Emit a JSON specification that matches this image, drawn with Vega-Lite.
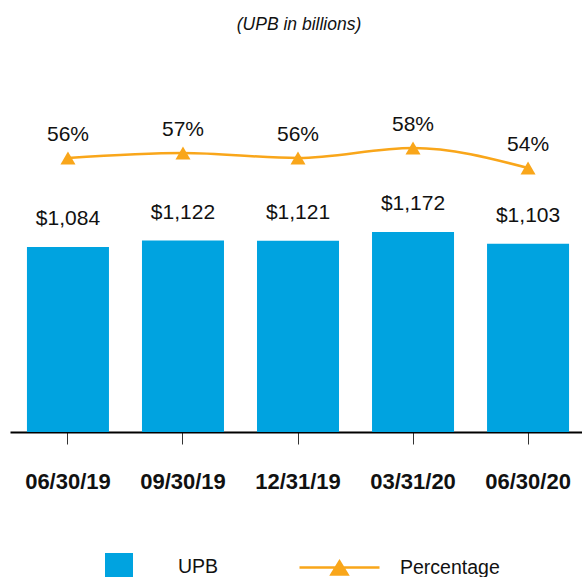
{
  "$schema": "https://vega.github.io/schema/vega-lite/v6.json",
  "width": 572,
  "height": 372,
  "autosize": {"type": "none"},
  "padding": {"left": 10, "top": 60, "right": 0, "bottom": 145},
  "background": "white",
  "config": {"view": {"stroke": null}, "font": "Liberation Sans"},
  "title": {
    "text": "(UPB in billions)",
    "font": "Liberation Sans",
    "fontStyle": "italic",
    "fontWeight": "normal",
    "fontSize": 17.5,
    "color": "#111111",
    "anchor": "middle",
    "baseline": "alphabetic",
    "offset": 13,
    "dx": 3
  },
  "data": {
    "values": [
      {"date": "06/30/19", "upb": 1084, "pct": 0.56},
      {"date": "09/30/19", "upb": 1122, "pct": 0.57},
      {"date": "12/31/19", "upb": 1121, "pct": 0.56},
      {"date": "03/31/20", "upb": 1172, "pct": 0.58},
      {"date": "06/30/20", "upb": 1103, "pct": 0.54}
    ]
  },
  "encoding": {
    "x": {
      "field": "date",
      "type": "ordinal",
      "sort": null,
      "scale": {"paddingInner": 0.287, "paddingOuter": 0.13, "align": 0.567},
      "axis": {
        "title": null,
        "labelAngle": 0,
        "labelFont": "Liberation Sans",
        "labelFontWeight": "bold",
        "labelFontSize": 22,
        "labelColor": "#111111",
        "labelPadding": 27,
        "domainColor": "#000000",
        "domainWidth": 2,
        "tickColor": "#333333",
        "tickWidth": 1,
        "tickSize": 12
      }
    }
  },
  "layer": [
    {
      "mark": {"type": "bar"},
      "encoding": {
        "y": {"field": "upb", "type": "quantitative", "scale": {"domain": [0, 2180], "nice": false}, "axis": null},
        "fill": {
          "datum": "UPB",
          "type": "nominal",
          "scale": {"domain": ["UPB"], "range": ["#00A3E0"]},
          "legend": {
            "orient": "none",
            "legendX": 95,
            "legendY": 493,
            "title": null,
            "symbolType": "square",
            "symbolSize": 784,
            "symbolStrokeWidth": 0,
            "labelFont": "Liberation Sans",
            "labelFontSize": 19.5,
            "labelColor": "#111111",
            "labelOffset": 45,
            "padding": 0
          }
        }
      }
    },
    {
      "mark": {"type": "text", "font": "Liberation Sans", "fontSize": 21, "dy": -22, "baseline": "alphabetic", "color": "#111111"},
      "encoding": {
        "y": {"field": "upb", "type": "quantitative", "scale": {"domain": [0, 2180], "nice": false}, "axis": null},
        "text": {"field": "upb", "type": "quantitative", "format": "$,.0f"}
      }
    },
    {
      "mark": {"type": "line", "strokeWidth": 2.5, "interpolate": "monotone"},
      "encoding": {
        "y": {"field": "pct", "type": "quantitative", "scale": {"domain": [0.012, 0.756], "nice": false}, "axis": null},
        "stroke": {
          "datum": "Percentage",
          "type": "nominal",
          "scale": {"domain": ["Percentage"], "range": ["#F9A61A"]},
          "legend": {
            "orient": "none",
            "legendX": 288,
            "legendY": 466,
            "title": null,
            "symbolType": "M-1,0H1M-0.2,0.175L0,-0.15L0.2,0.175Z",
            "symbolSize": 6400,
            "symbolStrokeWidth": 2.5,
            "labelFont": "Liberation Sans",
            "labelFontSize": 19.5,
            "labelColor": "#111111",
            "labelOffset": 19,
            "padding": 0,
            "encode": {"symbols": {"update": {"fill": {"value": "#F9A61A"}, "stroke": {"value": "#F9A61A"}}}}
          }
        }
      }
    },
    {
      "mark": {"type": "point", "shape": "triangle-up", "filled": true, "size": 225, "color": "#F9A61A", "opacity": 1},
      "encoding": {
        "y": {"field": "pct", "type": "quantitative", "scale": {"domain": [0.012, 0.756], "nice": false}, "axis": null}
      }
    },
    {
      "mark": {"type": "text", "font": "Liberation Sans", "fontSize": 21, "dy": -17, "baseline": "alphabetic", "color": "#111111"},
      "encoding": {
        "y": {"field": "pct", "type": "quantitative", "scale": {"domain": [0.012, 0.756], "nice": false}, "axis": null},
        "text": {"field": "pct", "type": "quantitative", "format": ".0%"}
      }
    }
  ],
  "resolve": {"scale": {"y": "independent"}}
}
